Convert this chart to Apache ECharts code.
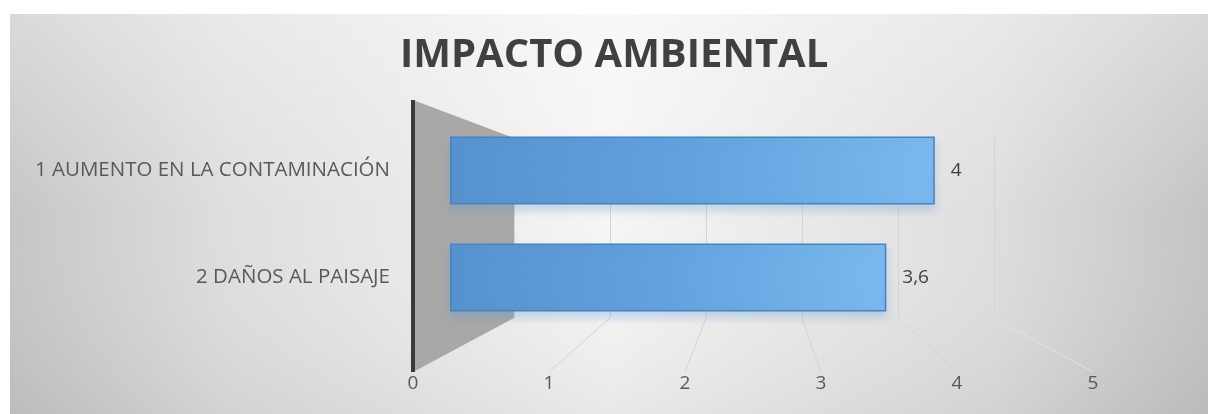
<!DOCTYPE html>
<html>
<head>
<meta charset="utf-8">
<script src="https://cdn.jsdelivr.net/npm/echarts@6/dist/echarts.min.js"></script>
<style>
html,body{margin:0;padding:0;background:#ffffff;}
#chart{width:1208px;height:414px;}
</style>
</head>
<body>
<div id="chart"></div>
<script>
const titleText = 'IMPACTO AMBIENTAL';
const categories = ['1 AUMENTO EN LA CONTAMINACIÓN', '2 DAÑOS AL PAISAJE'];
const values = [4, 3.6];
const tickValues = [0, 1, 2, 3, 4, 5];

const FONT = '"Open Sans", "Noto Sans", sans-serif';
const chart = echarts.init(document.getElementById('chart'), null, {renderer: 'canvas'});

const option = {
  animation: false,
  backgroundColor: '#ffffff',
  title: {
    text: titleText,
    left: 395,
    top: 31,
    textStyle: {fontFamily: FONT, fontWeight: 'bold', fontSize: 40, color: '#404040'}
  },
  grid: [
    {left: 450, top: 117, width: 606, height: 214, containLabel: false},
    {left: 514, top: 138, width: 480, height: 180, containLabel: false},
    {left: 413, top: 100, width: 680, height: 272, containLabel: false}
  ],
  xAxis: [
    {gridIndex: 0, type: 'value', min: 0, max: 5, interval: 1, show: false},
    {gridIndex: 1, type: 'value', min: 0, max: 5, interval: 1,
     axisLine: {show: false}, axisTick: {show: false}, axisLabel: {show: false},
     splitLine: {show: true, lineStyle: {color: '#d4d4d4', width: 1}}},
    {gridIndex: 2, type: 'value', min: 0, max: 5, interval: 1,
     axisLine: {show: false}, axisTick: {show: false}, splitLine: {show: false},
     axisLabel: {show: true, margin: 2, fontFamily: FONT, fontSize: 19, color: '#595959',
       formatter: function (v) { return tickValues.indexOf(v) >= 0 ? String(v) : ''; }}}
  ],
  yAxis: [
    {gridIndex: 0, type: 'category', data: categories, inverse: true,
     axisLine: {show: false}, axisTick: {show: false}, splitLine: {show: false},
     axisLabel: {margin: 60, fontFamily: FONT, fontSize: 20.5, color: '#595959'}},
    {gridIndex: 1, type: 'value', show: false},
    {gridIndex: 2, type: 'value', show: false}
  ],
  series: [{
    type: 'bar',
    xAxisIndex: 0,
    yAxisIndex: 0,
    data: values,
    barWidth: 68,
    z: 5,
    itemStyle: {
      color: new echarts.graphic.LinearGradient(0, 1, 1, 0, [
        {offset: 0, color: '#5592ce'},
        {offset: 0.5, color: '#62a2de'},
        {offset: 1, color: '#7abaf0'}
      ]),
      borderColor: '#4a82bd',
      borderWidth: 1.5,
      shadowColor: 'rgba(91,155,213,0.30)',
      shadowBlur: 8,
      shadowOffsetY: 6
    },
    label: {
      show: true,
      position: 'right',
      distance: 16,
      fontFamily: FONT,
      fontSize: 19,
      color: '#404040',
      formatter: function (p) { return String(p.value).replace('.', ','); }
    }
  }]
};
chart.setOption(option);

// Decorations derived from the axes' own scales
const backTop = 138, backBottom = 318, frontTop = 100, frontBottom = 372;
const graphics = [];
graphics.push({
  type: 'rect', z: -100, silent: true,
  shape: {x: 10, y: 14, width: 1198, height: 400},
  style: {fill: new echarts.graphic.LinearGradient(0, 0, 1, 0, [
    {offset: 0, color: '#c6c6c6'},
    {offset: 0.18, color: '#dedede'},
    {offset: 0.5, color: '#f5f5f5'},
    {offset: 0.82, color: '#dedede'},
    {offset: 1, color: '#c4c4c4'}
  ])}
});
graphics.push({
  type: 'rect', z: -99, silent: true,
  shape: {x: 10, y: 14, width: 1198, height: 400},
  style: {fill: new echarts.graphic.LinearGradient(0, 0, 0, 1, [
    {offset: 0, color: 'rgba(255,255,255,0.35)'},
    {offset: 0.5, color: 'rgba(255,255,255,0)'},
    {offset: 1, color: 'rgba(0,0,0,0.05)'}
  ])}
});
const back0 = chart.convertToPixel({xAxisIndex: 1}, 0);
const front0 = chart.convertToPixel({xAxisIndex: 2}, 0);
graphics.push({
  type: 'polygon', z: -50, silent: true,
  shape: {points: [[front0, frontTop], [back0, backTop], [back0, backBottom], [front0, frontBottom]]},
  style: {fill: '#a8a8a8'}
});
graphics.push({
  type: 'line', z: -40, silent: true,
  shape: {x1: front0, y1: frontTop, x2: front0, y2: frontBottom},
  style: {stroke: '#3a3a3a', lineWidth: 4}
});
tickValues.forEach(function (v) {
  if (v === 0) return;
  const bx = chart.convertToPixel({xAxisIndex: 1}, v);
  const fx = chart.convertToPixel({xAxisIndex: 2}, v);
  graphics.push({
    type: 'line', z: -60, silent: true,
    shape: {x1: bx, y1: backBottom, x2: fx, y2: frontBottom},
    style: {stroke: v === 5 ? '#e2e2e2' : '#d4d4d4', lineWidth: 1}
  });
});
chart.setOption({graphic: graphics});
</script>
</body>
</html>
